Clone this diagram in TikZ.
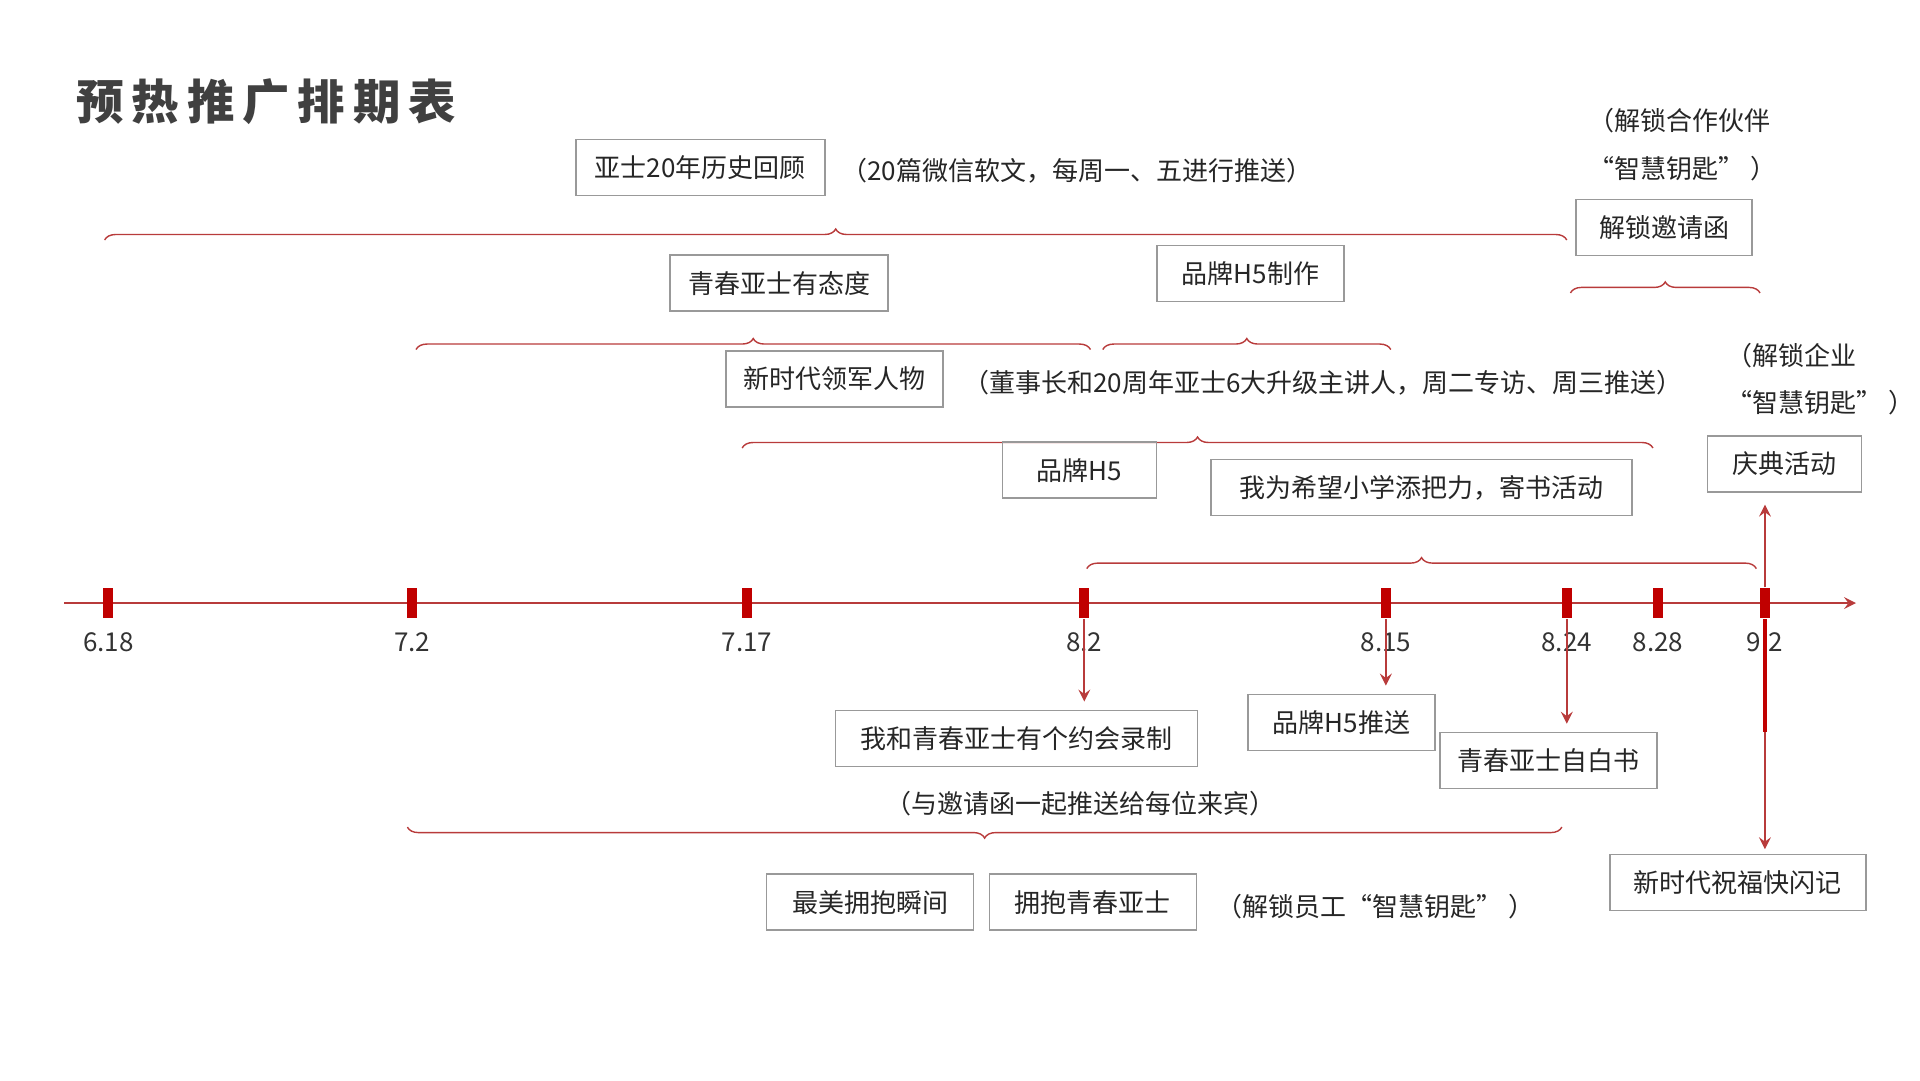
\documentclass[tikz,border=0pt]{standalone}
\usepackage{fontspec}
\setmainfont{Noto Sans CJK SC}
\usetikzlibrary{positioning,decorations.pathreplacing}
\definecolor{linered}{HTML}{B83B3B}
\definecolor{tickred}{HTML}{C00000}
\tikzset{
  box/.style={draw=gray!80, line width=0.4pt, minimum height=5.6mm, inner sep=0pt, font=\fontsize{7.4}{8}\selectfont, text=black!85},
  note/.style={font=\fontsize{7.4}{8}\selectfont, text=black!85, inner sep=0pt},
  brc/.style={draw=linered, line width=0.4pt, decorate, decoration={brace, amplitude=1.1mm}},
  tick/.style={fill=tickred, minimum width=1mm, minimum height=3mm, inner sep=0pt},
  lbl/.style={font=\fontsize{7.4}{8}\selectfont, text=black!80, inner sep=0pt},
  arr/.style={draw=linered, line width=0.5pt, ->, >=stealth}
}
\begin{document}
\begin{tikzpicture}[x=0.1231mm, y=-0.1231mm]
\useasboundingbox (0,0) rectangle (1560,877.5);

\node[anchor=west, font=\fontsize{13.5}{14}\selectfont\bfseries, text=black!75] (title) at (52,83) {预\,热\,推\,广\,排\,期\,表};

% top row
\node[box, minimum width=24.9mm] (hist) at (569,136) {亚士20年历史回顾};
\node[note, anchor=west] (histnote) at (683,139) {（20篇微信软文，每周一、五进行推送）};
\draw[brc] (85,195) -- (1273,195);
\node[note, anchor=west] (p1) at (1290,98) {（解锁合作伙伴};
\node[note, anchor=west] (p2) at (1290,137) {“智慧钥匙” ）};
\node[box, minimum width=17.6mm] (invite) at (1352,185) {解锁邀请函};
\draw[brc] (1276,238) -- (1430,238);

\node[box, minimum width=21.8mm] (youth) at (633,230) {青春亚士有态度};
\draw[brc] (338,284) -- (886,284);
\node[box, minimum width=18.7mm] (h5make) at (1016,222) {品牌H5制作};
\draw[brc] (896,284) -- (1130,284);

\node[box, minimum width=21.7mm] (leader) at (678,308) {新时代领军人物};
\node[note, anchor=west] (leadnote) at (782,311) {（董事长和20周年亚士6大升级主讲人，周二专访、周三推送）};
\node[note, anchor=west] (e1) at (1402,289) {（解锁企业};
\node[note, anchor=west] (e2) at (1402,327) {“智慧钥匙” ）};
\draw[brc] (603,364) -- (1343,364);

\node[box, minimum width=15.4mm] (h5) at (877,382) {品牌H5};
\node[box, minimum width=15.4mm] (party) at (1450,377) {庆典活动};
\node[box, minimum width=42.1mm] (school) at (1155,396) {我为希望小学添把力，寄书活动};
\draw[brc] (883,462) -- (1427,462);

% axis
\coordinate (a0) at (52,490);
\coordinate (a1) at (1508,490);
\draw[draw=linered, line width=0.5pt, ->, >=stealth] (a0) -- (a1);
\foreach \x/\d/\n in {88/6.18/t1, 335/7.2/t2, 607/7.17/t3, 881/8.2/t4, 1126/8.15/t5, 1273/8.24/t6, 1347/8.28/t7, 1434/9.2/t8} {
  \node[tick] (\n) at (\x,490) {};
  \node[lbl] (\n l) at (\x,522) {\d};
}

% bottom
\node[box, minimum width=36.2mm] (record) at (826,600) {我和青春亚士有个约会录制};
\node[box, minimum width=18.7mm] (h5push) at (1090,587) {品牌H5推送};
\node[box, minimum width=21.7mm] (white) at (1258,618) {青春亚士自白书};
\draw[arr] (t4.south) -- (881,570);
\draw[arr] (t5.south) -- (1126,557);
\draw[arr] (t6.south) -- (1273,588);
\draw[arr] (t8.north) -- (1434,410);
\draw[draw=tickred, line width=1.2pt] (t8.south) -- (1434,595);
\draw[arr] (1434,595) -- (1434,690);

\node[note] (recnote) at (878,653) {（与邀请函一起推送给每位来宾）};
\draw[brc] (1269,672) -- (331,672);
\node[box, minimum width=20.7mm] (hug) at (707,733) {最美拥抱瞬间};
\node[box, minimum width=20.7mm] (hugy) at (888,733) {拥抱青春亚士};
\node[note, anchor=west] (staff) at (988,737) {（解锁员工“智慧钥匙” ）};
\node[box, minimum width=25.6mm] (flash) at (1412,717) {新时代祝福快闪记};
\end{tikzpicture}
\end{document}
